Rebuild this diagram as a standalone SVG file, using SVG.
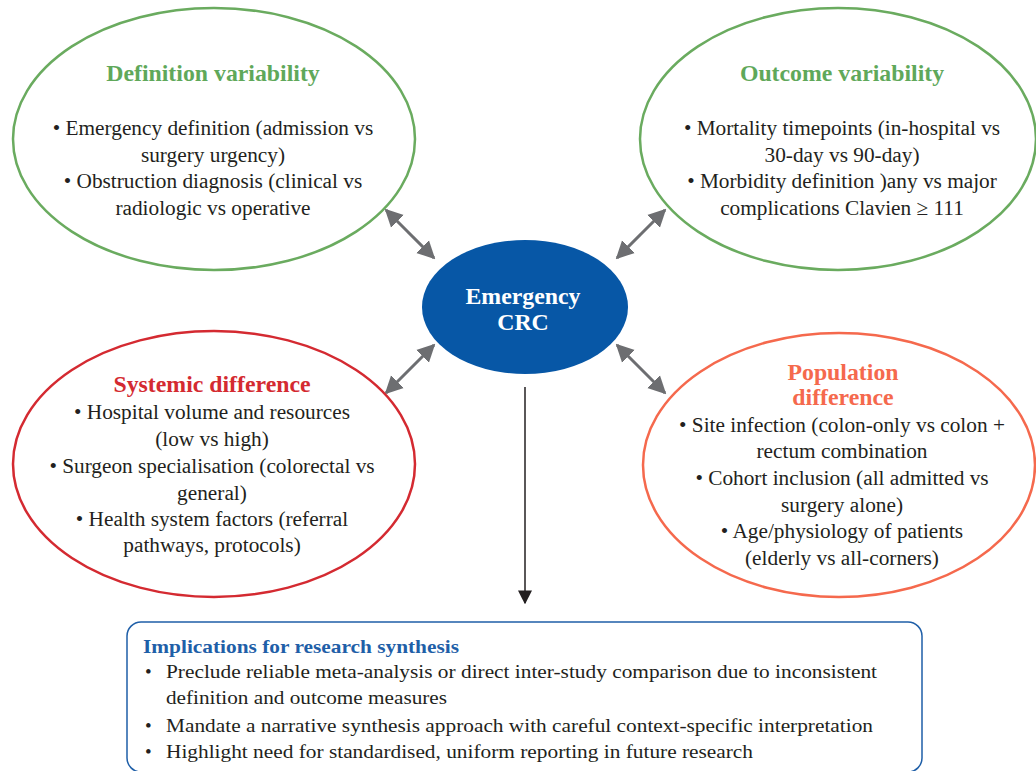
<svg xmlns="http://www.w3.org/2000/svg" width="1036" height="771" viewBox="0 0 1036 771">
<style>
.t{font-family:"Liberation Serif","Times New Roman",serif;font-size:21.3px;fill:#231f20;text-anchor:middle}
.h{font-family:"Liberation Serif","Times New Roman",serif;font-size:23.8px;font-weight:bold;text-anchor:middle}
.b{font-family:"Liberation Serif","Times New Roman",serif;font-size:19px;fill:#231f20}
.conn{stroke:#6d6e71;stroke-width:3;fill:none;marker-start:url(#ga);marker-end:url(#ga)}
</style>
<defs>
<marker id="ga" viewBox="0 0 10 10" refX="9" refY="5" markerWidth="18" markerHeight="19" orient="auto-start-reverse" markerUnits="userSpaceOnUse">
<path d="M0,0 L10,5 L0,10 z" fill="#6d6e71"/>
</marker>
<marker id="ba" viewBox="0 0 10 10" refX="9" refY="5" markerWidth="14" markerHeight="18" orient="auto" markerUnits="userSpaceOnUse">
<path d="M0,0 L10,5 L0,10 z" fill="#231f20"/>
</marker>
</defs>
<rect width="1036" height="771" fill="#ffffff"/>

<g id="connectors">
<line class="conn" x1="386" y1="210" x2="434" y2="258"/>
<line class="conn" x1="665" y1="210" x2="617" y2="258"/>
<line class="conn" x1="434" y1="345" x2="386" y2="393"/>
<line class="conn" x1="617" y1="345" x2="665" y2="393"/>
<line x1="525" y1="387" x2="525" y2="603" stroke="#231f20" stroke-width="1.5" marker-end="url(#ba)"/>
</g>

<g id="definition">
<ellipse cx="214" cy="139" rx="201" ry="131" fill="#ffffff" stroke="#6aab5f" stroke-width="2.5"/>
<text class="h" x="213" y="81" fill="#5fa85a">Definition variability</text>
<text class="t" x="213" y="135">• Emergency definition (admission vs</text>
<text class="t" x="213" y="162">surgery urgency)</text>
<text class="t" x="213" y="188">• Obstruction diagnosis (clinical vs</text>
<text class="t" x="213" y="215">radiologic vs operative</text>
</g>

<g id="outcome">
<ellipse cx="838" cy="139" rx="198" ry="131" fill="#ffffff" stroke="#6aab5f" stroke-width="2.5"/>
<text class="h" x="842" y="81" fill="#5fa85a">Outcome variability</text>
<text class="t" x="842" y="135">• Mortality timepoints (in-hospital vs</text>
<text class="t" x="842" y="162">30-day vs 90-day)</text>
<text class="t" x="842" y="188">• Morbidity definition )any vs major</text>
<text class="t" x="842" y="215">complications Clavien ≥ 111</text>
</g>

<g id="center">
<ellipse cx="525" cy="307" rx="103" ry="67" fill="#0757a6"/>
<text class="h" x="523" y="304" fill="#ffffff">Emergency</text>
<text class="h" x="523" y="330" fill="#ffffff">CRC</text>
</g>

<g id="systemic">
<ellipse cx="214" cy="464" rx="201" ry="133" fill="#ffffff" stroke="#d42a31" stroke-width="2.5"/>
<text class="h" x="212" y="392" fill="#d42a31">Systemic difference</text>
<text class="t" x="212" y="419">• Hospital volume and resources</text>
<text class="t" x="212" y="446">(low vs high)</text>
<text class="t" x="212" y="473">• Surgeon specialisation (colorectal vs</text>
<text class="t" x="212" y="500">general)</text>
<text class="t" x="212" y="526">• Health system factors (referral</text>
<text class="t" x="212" y="552">pathways, protocols)</text>
</g>

<g id="population">
<ellipse cx="839" cy="465" rx="196" ry="132" fill="#ffffff" stroke="#f5694d" stroke-width="2.5"/>
<text class="h" x="843" y="380" fill="#f5694d">Population</text>
<text class="h" x="843" y="405" fill="#f5694d">difference</text>
<text class="t" x="842" y="432">• Site infection (colon-only vs colon +</text>
<text class="t" x="842" y="458">rectum combination</text>
<text class="t" x="842" y="485">• Cohort inclusion (all admitted vs</text>
<text class="t" x="842" y="512">surgery alone)</text>
<text class="t" x="842" y="538">• Age/physiology of patients</text>
<text class="t" x="842" y="565">(elderly vs all-corners)</text>
</g>

<g id="implications">
<rect x="127" y="622" width="795" height="150" rx="14" fill="#ffffff" stroke="#1f5fa8" stroke-width="1.5"/>
<text x="143" y="653" font-family="Liberation Serif, Times New Roman, serif" font-size="19" font-weight="bold" fill="#1f5fa8" textLength="316" lengthAdjust="spacingAndGlyphs">Implications for research synthesis</text>
<text class="b" x="145" y="678">•</text>
<text class="b" x="166" y="678" textLength="711" lengthAdjust="spacingAndGlyphs">Preclude reliable meta-analysis or direct inter-study comparison due to inconsistent</text>
<text class="b" x="166" y="704" textLength="281" lengthAdjust="spacingAndGlyphs">definition and outcome measures</text>
<text class="b" x="145" y="732">•</text>
<text class="b" x="166" y="732" textLength="707" lengthAdjust="spacingAndGlyphs">Mandate a narrative synthesis approach with careful context-specific interpretation</text>
<text class="b" x="145" y="758">•</text>
<text class="b" x="166" y="758" textLength="587" lengthAdjust="spacingAndGlyphs">Highlight need for standardised, uniform reporting in future research</text>
</g>
</svg>
